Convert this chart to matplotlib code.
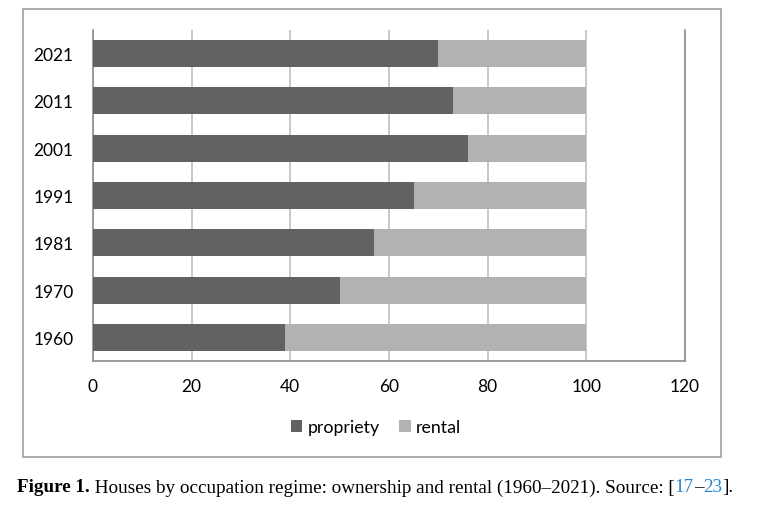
import numpy as np
import matplotlib.pyplot as plt
from matplotlib.patches import Rectangle

# Données
years = ["1960", "1970", "1981", "1991", "2001", "2011", "2021"]
propriety = [39, 50, 57, 65, 76, 73, 70]
rental = [61, 50, 43, 35, 24, 27, 30]

dark = "#626262"
light = "#b2b2b2"

plt.rcParams['font.family'] = ['Lato', 'DejaVu Sans']

fig = plt.figure(figsize=(7.58, 5.10), dpi=100)
ax = fig.add_axes([93/758, 1-362/510, 592/758, 331/510])

y = np.arange(len(years))
ax.barh(y, propriety, height=0.57, color=dark, label="propriety", zorder=3)
ax.barh(y, rental, left=propriety, height=0.57, color=light, label="rental", zorder=3)

ax.set_xlim(0, 120)
ax.set_ylim(-0.5, len(years) - 0.5)
ax.set_xticks(range(0, 121, 20))
ax.set_yticks(y)
ax.set_yticklabels(years)
ax.xaxis.grid(True, color="#c0c0c0", linewidth=1.2, zorder=0)
ax.tick_params(axis="both", length=0, labelsize=12.5, colors="black")
ax.tick_params(axis="x", pad=12)
ax.tick_params(axis="y", pad=14)
for s in ["left", "bottom", "right"]:
    ax.spines[s].set_color("#8c8c8c")
    ax.spines[s].set_linewidth(1.2)
ax.spines["top"].set_visible(False)

ax.legend(loc="center", bbox_to_anchor=(376/758, 1-428/510), bbox_transform=fig.transFigure,
          ncol=2, frameon=False, fontsize=12.8, handlelength=0.65, handleheight=0.65,
          handletextpad=0.3, columnspacing=1.1)

# cadre extérieur
fig.patches.append(Rectangle((23/758, 1-458/510), 698/758, 448/510, transform=fig.transFigure,
                             fill=False, edgecolor="#a0a0a0", linewidth=1.2))

# légende de la figure
pieces = [("Figure 1.", "bold", "black"),
          (" Houses by occupation regime: ownership and rental (1960\u20132021). Source: [", "normal", "black"),
          ("17", "normal", "#2b86cc"),
          ("\u2013", "normal", "black"),
          ("23", "normal", "#2b86cc"),
          ("].", "normal", "black")]
renderer = fig.canvas.get_renderer()
x = 17
for txt, w, c in pieces:
    t = fig.text(x/758, 1-488/510, txt, fontsize=13.8, fontweight=w, color=c,
                 family="Liberation Serif", va="center", ha="left")
    x += t.get_window_extent(renderer).width

fig.savefig("out.png", dpi=100)
